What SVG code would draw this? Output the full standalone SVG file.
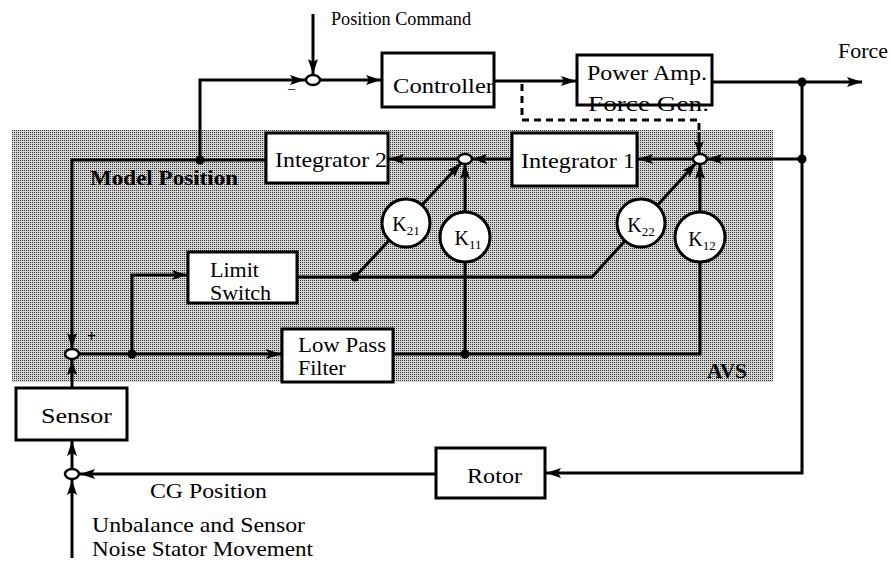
<svg xmlns="http://www.w3.org/2000/svg" width="893" height="565" viewBox="0 0 893 565">
<style>
.ln{fill:none;stroke:#000;stroke-width:3;marker-end:url(#ah)}
.pl{fill:none;stroke:#000;stroke-width:3}
.dash{fill:none;stroke:#000;stroke-width:3;stroke-dasharray:7,5}
.box{fill:#fff;stroke:#000;stroke-width:3}
.sum{fill:#fff;stroke:#000;stroke-width:2.5}
.gain{fill:#fff;stroke:#000;stroke-width:3}
.dot{fill:#000}
.t{font-family:"Liberation Serif","Times New Roman",serif;font-size:22px;fill:#000}
.b{font-weight:bold}
.k{font-family:"Liberation Serif","Times New Roman",serif;font-size:20px;fill:#000}
.sub{font-size:13px}
</style>
<defs>
<marker id="ah" viewBox="0 0 15 10" refX="15" refY="5" markerWidth="15" markerHeight="10" orient="auto" markerUnits="userSpaceOnUse">
<path d="M0,0 L15,5 L0,10 L3,5 z" fill="#000"/>
</marker>
<marker id="ahs" viewBox="0 0 12 10" refX="12" refY="5" markerWidth="12" markerHeight="10" orient="auto" markerUnits="userSpaceOnUse">
<path d="M0,0 L12,5 L0,10 L3,5 z" fill="#000"/>
</marker>
<pattern id="shade" width="2" height="2" patternUnits="userSpaceOnUse">
<rect width="2" height="2" fill="#d4d4d4"/>
<rect width="1" height="1" fill="#383838"/>
</pattern>
</defs>

<rect id="avs-region" x="12" y="130" width="761" height="252" fill="url(#shade)"/>

<g id="connectors">
<path class="ln" d="M313,14 V74"/>
<path class="ln" d="M200,160 V80 H305"/>
<path class="ln" d="M320,80 H381"/>
<path class="ln" d="M494,81 H576"/>
<path class="ln" d="M712,82 H862"/>
<path class="ln" d="M802,82 V473 H546"/>
<path class="ln" d="M802,159 H707"/>
<path class="dash" d="M522,84 V120 H699 V134"/>
<path class="ln" style="marker-end:url(#ahs)" d="M699,132 V153"/>
<path class="ln" d="M692,159 H638"/>
<path class="ln" d="M512,159 H472"/>
<path class="ln" d="M458,159 H389"/>
<path class="ln" d="M266,160 H72 V348"/>
<path class="ln" d="M72,388 V360"/>
<path class="ln" d="M79,354 H281"/>
<path class="ln" d="M132,354 V275 H187"/>
<path class="ln" d="M297,277 H592 L696,163"/>
<path class="ln" d="M355,277 L461,163"/>
<path class="ln" d="M393,354 H700 V164"/>
<path class="ln" d="M465,354 V164"/>
<path class="ln" d="M436,474 H80"/>
<path class="ln" d="M72,469 V441"/>
<path class="ln" d="M72,558 V480"/>
<circle class="dot" cx="200" cy="160" r="4.5"/>
<circle class="dot" cx="132" cy="354" r="4.5"/>
<circle class="dot" cx="355" cy="277" r="4.5"/>
<circle class="dot" cx="465" cy="354" r="4.5"/>
<circle class="dot" cx="802" cy="82" r="4.5"/>
<circle class="dot" cx="802" cy="159" r="4.5"/>
</g>

<g id="sum-top"><ellipse class="sum" cx="313" cy="80" rx="7" ry="5"/></g>
<g id="sum-mid"><ellipse class="sum" cx="465" cy="159" rx="7" ry="5"/></g>
<g id="sum-right"><ellipse class="sum" cx="700" cy="159" rx="7" ry="5"/></g>
<g id="sum-left"><ellipse class="sum" cx="72" cy="354" rx="7" ry="5"/></g>
<g id="sum-bottom"><ellipse class="sum" cx="72" cy="474" rx="7" ry="5"/></g>

<g id="controller">
<rect class="box" x="382" y="53" width="112" height="54"/>
<text class="t" x="393" y="93" textLength="101" lengthAdjust="spacingAndGlyphs">Controller</text>
</g>
<g id="power-amp">
<rect class="box" x="577" y="55" width="135" height="50"/>
<text class="t" x="587" y="80" textLength="120" lengthAdjust="spacingAndGlyphs">Power Amp.</text>
<text class="t" x="588" y="111" textLength="121" lengthAdjust="spacingAndGlyphs">Force Gen.</text>
</g>
<g id="integrator1">
<rect class="box" x="512" y="133" width="125" height="53"/>
<text class="t" x="521" y="168" textLength="114" lengthAdjust="spacingAndGlyphs">Integrator 1</text>
</g>
<g id="integrator2">
<rect class="box" x="266" y="133" width="122" height="50"/>
<text class="t" x="275" y="167" textLength="112" lengthAdjust="spacingAndGlyphs">Integrator 2</text>
</g>
<g id="limit-switch">
<rect class="box" x="188" y="252" width="109" height="51"/>
<text class="t" x="210" y="277">Limit</text>
<text class="t" x="210" y="300">Switch</text>
</g>
<g id="low-pass">
<rect class="box" x="282" y="329" width="111" height="53"/>
<text class="t" x="298" y="352" textLength="88" lengthAdjust="spacingAndGlyphs">Low Pass</text>
<text class="t" x="298" y="375">Filter</text>
</g>
<g id="sensor">
<rect class="box" x="16" y="388" width="111" height="52"/>
<text class="t" x="41" y="423" textLength="71" lengthAdjust="spacingAndGlyphs">Sensor</text>
</g>
<g id="rotor">
<rect class="box" x="436" y="448" width="109" height="50"/>
<text class="t" x="467" y="483" textLength="55" lengthAdjust="spacingAndGlyphs">Rotor</text>
</g>
<g id="k21"><circle class="gain" cx="406" cy="223" r="24"/><text class="k" x="406" y="231" text-anchor="middle">K<tspan class="sub" dy="4">21</tspan></text></g>
<g id="k11"><circle class="gain" cx="465" cy="237" r="25"/><text class="k" x="468" y="245" text-anchor="middle">K<tspan class="sub" dy="4">11</tspan></text></g>
<g id="k22"><circle class="gain" cx="641" cy="223" r="24"/><text class="k" x="641" y="232" text-anchor="middle">K<tspan class="sub" dy="4">22</tspan></text></g>
<g id="k12"><circle class="gain" cx="700" cy="237" r="25"/><text class="k" x="702" y="246" text-anchor="middle">K<tspan class="sub" dy="4">12</tspan></text></g>

<g id="labels">
<text class="t" x="331" y="25" style="font-size:18px" textLength="140" lengthAdjust="spacingAndGlyphs">Position Command</text>
<text class="t" x="838" y="58" textLength="50" lengthAdjust="spacingAndGlyphs">Force</text>
<text class="t b" x="90" y="185" textLength="148" lengthAdjust="spacingAndGlyphs">Model Position</text>
<text class="t b" x="707" y="378" style="font-size:20px" textLength="40" lengthAdjust="spacingAndGlyphs">AVS</text>
<text class="t" x="150" y="498" textLength="117" lengthAdjust="spacingAndGlyphs">CG Position</text>
<text class="t" x="92" y="532" textLength="213" lengthAdjust="spacingAndGlyphs">Unbalance and Sensor</text>
<text class="t" x="92" y="556" textLength="221" lengthAdjust="spacingAndGlyphs">Noise Stator Movement</text>
<text class="t" x="288" y="93" style="font-size:14px">–</text>
<text class="t b" x="87" y="342" style="font-size:16px">+</text>
</g>
</svg>
